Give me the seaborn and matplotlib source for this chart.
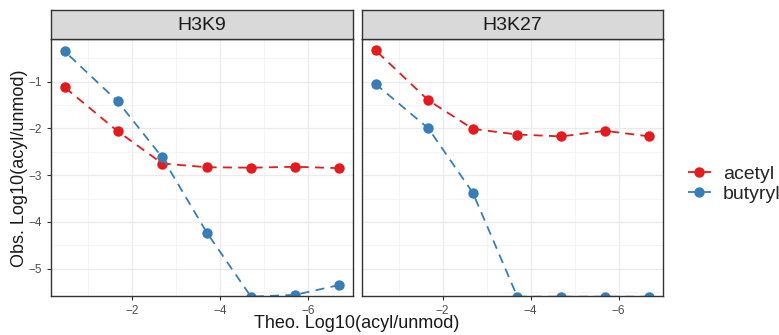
import numpy as np
import pandas as pd
import seaborn as sns
import matplotlib.pyplot as plt
from matplotlib.ticker import MultipleLocator

# values
theo = [-0.48, -1.68, -2.69, -3.70, -4.70, -5.70, -6.70]
h3k9_acetyl = [-1.12, -2.06, -2.75, -2.83, -2.84, -2.82, -2.85]
h3k9_butyryl = [-0.35, -1.42, -2.62, -4.23, -5.60, -5.56, -5.35]
h3k27_acetyl = [-0.33, -1.40, -2.01, -2.13, -2.17, -2.05, -2.17]
h3k27_butyryl = [-1.05, -2.00, -3.38, -5.60, -5.60, -5.60, -5.60]
panels = ["H3K9", "H3K27"]
acyls = ["acetyl", "butyryl"]

rows = []
for site, ac, bu in [("H3K9", h3k9_acetyl, h3k9_butyryl), ("H3K27", h3k27_acetyl, h3k27_butyryl)]:
    for x, y in zip(theo, ac):
        rows.append((site, "acetyl", x, y))
    for x, y in zip(theo, bu):
        rows.append((site, "butyryl", x, y))
df = pd.DataFrame(rows, columns=["site", "acyl", "theo", "obs"])

palette = {"acetyl": "#E41A1C", "butyryl": "#377EB8"}

sns.set_style("white")
plt.rcParams["font.family"] = ["Liberation Sans", "DejaVu Sans"]

fig = plt.figure(figsize=(7.79, 3.35), dpi=100)
W, H = 779, 335
axes = []
for i, (left, right) in enumerate([(51, 353), (362, 663)]):
    top, bottom = 39, 296
    ax = fig.add_axes([left / W, 1 - bottom / H, (right - left) / W, (bottom - top) / H])
    axes.append(ax)
    # strip
    sax = fig.add_axes([left / W, 1 - top / H, (right - left) / W, 29 / H])
    sax.set_facecolor("#D9D9D9")
    sax.set_xticks([])
    sax.set_yticks([])
    for s in sax.spines.values():
        s.set_color("#333333")
        s.set_linewidth(1.0)
    sax.text(0.5, 0.45, panels[i], ha="center", va="center", fontsize=14, color="#1A1A1A",
             transform=sax.transAxes)

for i, ax in enumerate(axes):
    sub = df[df["site"] == panels[i]]
    sns.lineplot(data=sub, x="theo", y="obs", hue="acyl", hue_order=acyls, palette=palette,
                 marker="o", markersize=7.5, markeredgewidth=0, linestyle=(0, (5, 3.5)),
                 linewidth=1.3, estimator=None, ax=ax, legend=(i == 1))
    ax.set_xlim(-0.17, -7.01)
    ax.set_ylim(-5.585, -0.086)
    ax.xaxis.set_major_locator(MultipleLocator(2))
    ax.xaxis.set_minor_locator(MultipleLocator(1))
    ax.yaxis.set_major_locator(MultipleLocator(1))
    ax.yaxis.set_minor_locator(MultipleLocator(0.5))
    ax.grid(True, which="major", color="#EBEBEB", linewidth=1.0)
    ax.grid(True, which="minor", color="#F2F2F2", linewidth=0.6)
    ax.set_axisbelow(True)
    for s in ax.spines.values():
        s.set_color("#333333")
        s.set_linewidth(1.0)
    ax.tick_params(axis="both", which="major", length=3, width=0.8, color="#333333",
                   labelsize=8.5, labelcolor="#4D4D4D", direction="out", bottom=True, left=(i == 0))
    ax.tick_params(axis="both", which="minor", length=0)
    ax.set_xlabel("")
    ax.set_ylabel("")
    if i == 1:
        ax.set_yticklabels([])
        handles, labels = ax.get_legend_handles_labels()
        ax.legend_.remove()
        fig.legend(handles, labels, loc="center left", bbox_to_anchor=(680 / W, 1 - 184 / H),
                   frameon=False, fontsize=14, handlelength=1.2, handletextpad=0.6,
                   labelspacing=0.1, borderaxespad=0)

fig.text(357 / W, 1 - 324 / H, "Theo. Log10(acyl/unmod)", ha="center", va="center",
         fontsize=13, color="#1A1A1A")
fig.text(20 / W, 1 - 168 / H, "Obs. Log10(acyl/unmod)", ha="center", va="center",
         rotation=90, fontsize=13, color="#1A1A1A")

fig.savefig("out.png", dpi=100)
